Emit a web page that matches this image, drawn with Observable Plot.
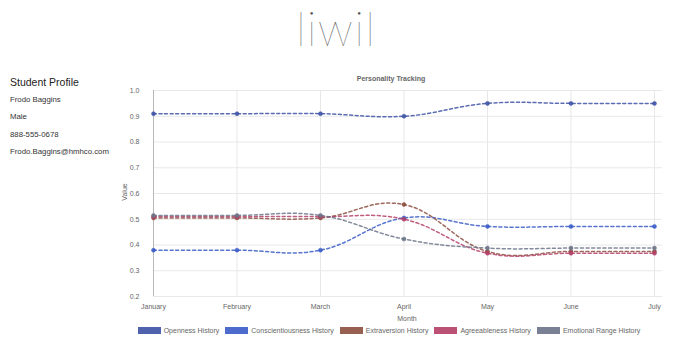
<!DOCTYPE html>
<html>
<head>
<meta charset="utf-8">
<script src="https://cdn.jsdelivr.net/npm/d3@7"></script>
<script src="https://cdn.jsdelivr.net/npm/@observablehq/plot@0.6"></script>
<style>
  html, body { margin: 0; padding: 0; background: #fff; }
  #wrap { position: relative; width: 680px; height: 350px; overflow: hidden; font-family: "Liberation Sans", Arial, Helvetica, sans-serif; -webkit-font-smoothing: antialiased; }
  #chart { position: absolute; left: 0; top: 0; }
  .abs { position: absolute; white-space: nowrap; z-index: 2; }
  #logo { left: 0; width: 672px; top: 0px; text-align: center; font-family: Lato, "Open Sans", sans-serif; font-weight: 100; font-size: 47px; line-height: normal; letter-spacing: 1.2px; color: #555; }
  #profile-title { left: 10px; top: 76px; font-size: 10.5px; color: #222; }
  .pl { left: 10px; font-size: 7.8px; color: #333; }
  #ctitle { left: 0; width: 782px; text-align: center; top: 75px; font-size: 7px; font-weight: bold; color: #666; }
  #ylab { left: 124px; top: 192px; font-size: 7px; color: #666; transform: translate(-50%, -50%) rotate(-90deg); }
  #xlab { left: 0; width: 814px; text-align: center; top: 315px; font-size: 7px; color: #666; }
  #legend { left: 0; width: 778px; top: 327px; display: flex; justify-content: center; align-items: center; font-size: 7px; color: #666; }
  .item { display: flex; align-items: center; margin: 0 3px; }
  .sw { width: 21px; height: 5px; border-width: 1.5px; border-style: dashed; margin-right: 3px; }
</style>
</head>
<body>
<div id="wrap">
  <div id="chart"></div>
  <div class="abs" id="logo">liwil</div>
  <div class="abs" id="profile-title">Student Profile</div>
  <div class="abs pl" style="top:95px">Frodo Baggins</div>
  <div class="abs pl" style="top:112px">Male</div>
  <div class="abs pl" style="top:130px">888-555-0678</div>
  <div class="abs pl" style="top:147px">Frodo.Baggins@hmhco.com</div>
  <div class="abs" id="ctitle">Personality Tracking</div>
  <div class="abs" id="ylab">Value</div>
  <div class="abs" id="xlab">Month</div>
  <div class="abs" id="legend"></div>
</div>
<script>
const months = ["January", "February", "March", "April", "May", "June", "July"];
const seriesNames = ["Openness History", "Conscientiousness History", "Extraversion History", "Agreeableness History", "Emotional Range History"];
const openness          = [0.91, 0.91, 0.91, 0.90, 0.95, 0.95, 0.95];
const conscientiousness = [0.38, 0.38, 0.38, 0.505, 0.472, 0.472, 0.472];
const extraversion      = [0.505, 0.505, 0.505, 0.557, 0.375, 0.375, 0.375];
const agreeableness     = [0.51, 0.51, 0.51, 0.50, 0.368, 0.368, 0.368];
const emotionalRange    = [0.515, 0.515, 0.515, 0.423, 0.388, 0.388, 0.388];
const yTicks = [0.2, 0.3, 0.4, 0.5, 0.6, 0.7, 0.8, 0.9, 1.0];
const seriesColors = ["#3d52a6", "#3a5cc8", "#8c4f3f", "#b53f68", "#6c7489"];

const allSeries = [openness, conscientiousness, extraversion, agreeableness, emotionalRange];
const data = [];
allSeries.forEach((vals, s) => vals.forEach((v, i) => data.push({series: seriesNames[s], i, month: months[i], value: v})));
const idx = months.map((m, i) => i);

const chart = Plot.plot({
  width: 680,
  height: 350,
  marginLeft: 153,
  marginRight: 18,
  marginTop: 90,
  marginBottom: 54,
  style: {fontFamily: "'Liberation Sans', Arial, sans-serif", fontSize: "7px", color: "#666", background: "transparent"},
  x: {domain: [0, 6.096], ticks: idx, tickFormat: i => months[i], tickSize: 0, tickPadding: 8, label: null},
  y: {domain: [0.2, 1.0], ticks: yTicks, tickFormat: d3.format(".1f"), tickSize: 0, tickPadding: 14, label: null},
  color: {domain: seriesNames, range: seriesColors},
  marks: [
    Plot.ruleY(yTicks, {stroke: "#e8e8e8", strokeWidth: 1}),
    Plot.ruleX(idx, {stroke: "#e8e8e8", strokeWidth: 1}),
    Plot.ruleX([0], {stroke: "#b8b8b8", strokeWidth: 1}),
    Plot.line(data, {x: "i", y: "value", z: "series", stroke: "series", curve: "cardinal", tension: -0.2, strokeWidth: 1.5, strokeDasharray: "3,2.6", strokeOpacity: 0.85}),
    Plot.dot(data, {x: "i", y: "value", fill: "series", r: 2, stroke: "series", strokeWidth: 0.5, fillOpacity: 0.9})
  ]
});
document.getElementById("chart").appendChild(chart);

const legend = document.getElementById("legend");
seriesNames.forEach((name, k) => {
  const item = document.createElement("div");
  item.className = "item";
  const sw = document.createElement("div");
  sw.className = "sw";
  sw.style.background = seriesColors[k];
  sw.style.borderColor = seriesColors[k];
  sw.style.opacity = 0.9;
  const t = document.createElement("span");
  t.textContent = name;
  item.appendChild(sw);
  item.appendChild(t);
  legend.appendChild(item);
});
</script>
</body>
</html>
